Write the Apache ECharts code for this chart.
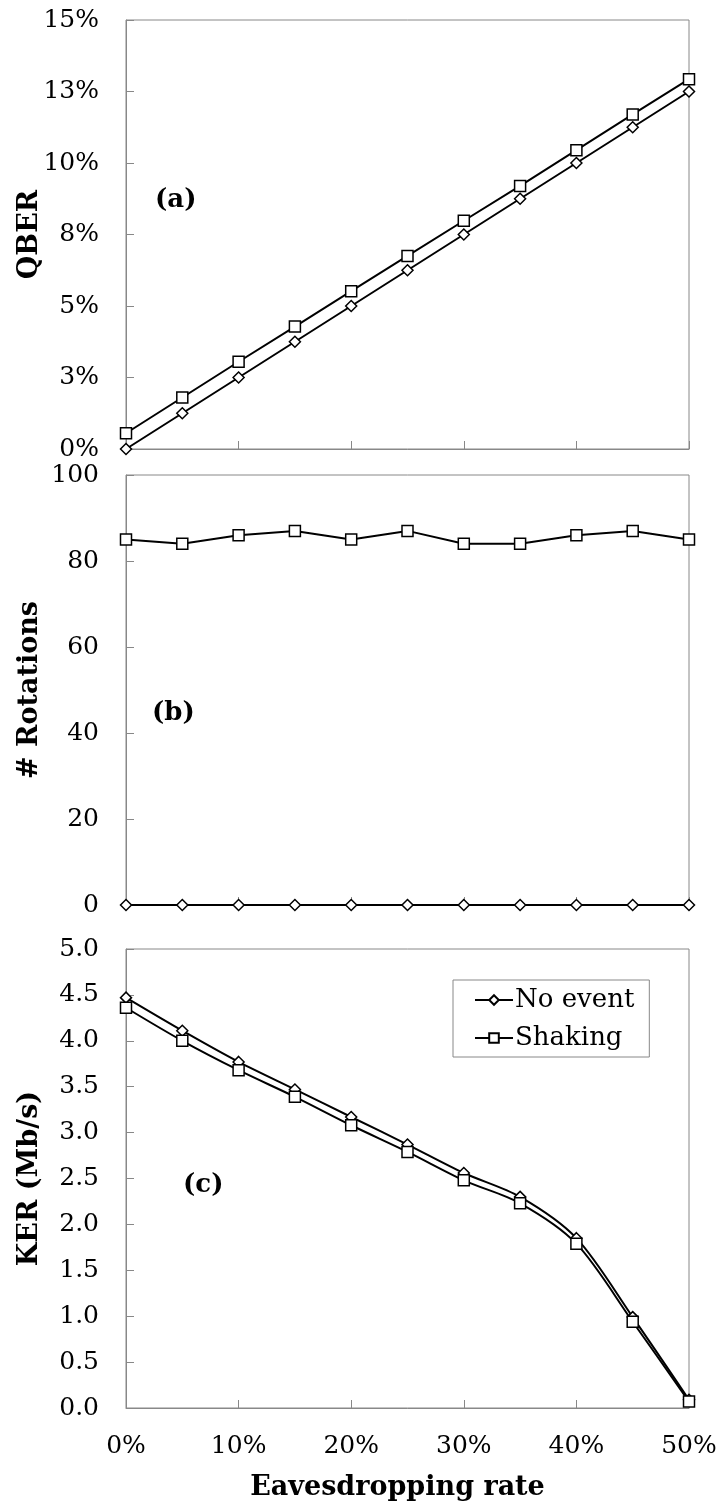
<!DOCTYPE html>
<html>
<head>
<meta charset="utf-8">
<script src="https://cdn.jsdelivr.net/npm/echarts@6/dist/echarts.min.js"></script>
<style>
html,body{margin:0;padding:0;background:#fff;}
#chart{width:719px;height:1504px;}
</style>
</head>
<body>
<div id="chart"></div>
<script>
// ---- data ----
const rates = [0, 5, 10, 15, 20, 25, 30, 35, 40, 45, 50];
const xTickLabels = ['0%', '10%', '20%', '30%', '40%', '50%'];
const seriesNames = ['No event', 'Shaking'];

const qberNoEvent = [0, 1.25, 2.5, 3.75, 5.0, 6.25, 7.5, 8.75, 10.0, 11.25, 12.5];
const qberShaking = [0.55, 1.8, 3.05, 4.28, 5.52, 6.75, 7.98, 9.2, 10.45, 11.7, 12.93];
const qberTickLabels = ['0%', '3%', '5%', '8%', '10%', '13%', '15%'];

const rotNoEvent = [0, 0, 0, 0, 0, 0, 0, 0, 0, 0, 0];
const rotShaking = [85, 84, 86, 87, 85, 87, 84, 84, 86, 87, 85];
const rotTickLabels = ['0', '20', '40', '60', '80', '100'];

const kerNoEvent = [4.47, 4.11, 3.77, 3.47, 3.17, 2.87, 2.56, 2.30, 1.85, 0.99, 0.09];
const kerShaking = [4.36, 4.00, 3.68, 3.39, 3.08, 2.79, 2.48, 2.23, 1.79, 0.94, 0.07];
const kerTickLabels = ['0.0','0.5','1.0','1.5','2.0','2.5','3.0','3.5','4.0','4.5','5.0'];

const panelLabels = ['(a)', '(b)', '(c)'];
const yTitles = ['QBER', '# Rotations', 'KER (Mb/s)'];
const xTitle = 'Eavesdropping rate';

// ---- styling ----
const FONT = 'DejaVu Serif';
const GRAY = '#888888';
const pairs = arr => rates.map((r, i) => [r, arr[i]]);

const grids = [
  {left: 126, right: 30, top: 20, height: 429},
  {left: 126, right: 30, top: 475, height: 430},
  {left: 126, right: 30, top: 949, height: 459}
].map(g => Object.assign(g, {
  show: true, borderColor: GRAY, borderWidth: 1, backgroundColor: 'transparent',
  containLabel: false, outerBoundsMode: 'none'
}));

function xAxis(idx, showLabels) {
  return {
    type: 'value', gridIndex: idx, min: 0, max: 50, interval: 10,
    axisLine: {show: true, lineStyle: {color: GRAY, width: 1}},
    axisTick: {show: true, inside: true, length: 8, lineStyle: {color: GRAY}},
    splitLine: {show: false},
    axisLabel: {
      show: showLabels, fontFamily: FONT, fontSize: 25, color: '#000', margin: 26,
      formatter: v => xTickLabels[Math.round(v / 10)]
    },
    name: showLabels ? xTitle : '',
    nameLocation: 'middle', nameGap: 66, nameMoveOverlap: false,
    nameTextStyle: {fontFamily: FONT, fontSize: 27, fontWeight: 'bold', color: '#000', padding: [0, 20, 0, 0]}
  };
}

function yAxis(idx, min, max, interval, labels, title) {
  return {
    type: 'value', gridIndex: idx, min: min, max: max, interval: interval,
    axisLine: {show: true, lineStyle: {color: GRAY, width: 1}},
    axisTick: {show: true, inside: true, length: 8, lineStyle: {color: GRAY}},
    splitLine: {show: false},
    axisLabel: {
      fontFamily: FONT, fontSize: 25, color: '#000', margin: 27,
      formatter: v => labels[Math.round((v - min) / interval)]
    },
    name: title, nameLocation: 'middle', nameGap: 83, nameRotate: 90, nameMoveOverlap: false,
    nameTextStyle: {fontFamily: FONT, fontSize: 27, fontWeight: 'bold', color: '#000'}
  };
}

function lineSeries(name, idx, data, symbol, size, smooth) {
  return {
    name: name, type: 'line', xAxisIndex: idx, yAxisIndex: idx,
    data: pairs(data), symbol: symbol, symbolSize: size, showSymbol: true,
    smooth: smooth, clip: false, z: symbol === 'diamond' ? 3 : 4,
    lineStyle: {color: '#000', width: 2},
    itemStyle: {color: '#fff', borderColor: '#000', borderWidth: 1.5},
    emphasis: {disabled: true}
  };
}

const option = {
  animation: false,
  backgroundColor: '#fff',
  textStyle: {fontFamily: FONT},
  grid: grids,
  xAxis: [xAxis(0, false), xAxis(1, false), xAxis(2, true)],
  yAxis: [
    yAxis(0, 0, 15, 2.5, qberTickLabels, yTitles[0]),
    yAxis(1, 0, 100, 20, rotTickLabels, yTitles[1]),
    yAxis(2, 0, 5, 0.5, kerTickLabels, yTitles[2])
  ],
  legend: {
    data: seriesNames, orient: 'vertical', left: 453, top: 980,
    itemWidth: 38, itemHeight: 12, itemGap: 8,
    padding: [5, 15, 4, 21],
    borderColor: GRAY, borderWidth: 1, borderRadius: 0,
    selectedMode: false,
    textStyle: {fontFamily: FONT, fontSize: 26, color: '#000', lineHeight: 30, padding: [0, 0, 0, -3]}
  },
  series: [
    lineSeries(seriesNames[0], 0, qberNoEvent, 'diamond', 11, false),
    lineSeries(seriesNames[1], 0, qberShaking, 'rect', 11, false),
    lineSeries(seriesNames[0], 1, rotNoEvent, 'diamond', 11, false),
    lineSeries(seriesNames[1], 1, rotShaking, 'rect', 11, false),
    lineSeries(seriesNames[0], 2, kerNoEvent, 'diamond', 11, 0.3),
    lineSeries(seriesNames[1], 2, kerShaking, 'rect', 11, 0.3)
  ],
  graphic: [
    {type: 'text', left: 155, top: 187, style: {text: panelLabels[0], font: 'bold 26px "DejaVu Serif"', fill: '#000'}},
    {type: 'text', left: 152, top: 700, style: {text: panelLabels[1], font: 'bold 26px "DejaVu Serif"', fill: '#000'}},
    {type: 'text', left: 183, top: 1172, style: {text: panelLabels[2], font: 'bold 26px "DejaVu Serif"', fill: '#000'}}
  ]
};

const chart = echarts.init(document.getElementById('chart'), null, {renderer: 'canvas'});
chart.setOption(option);
</script>
</body>
</html>
